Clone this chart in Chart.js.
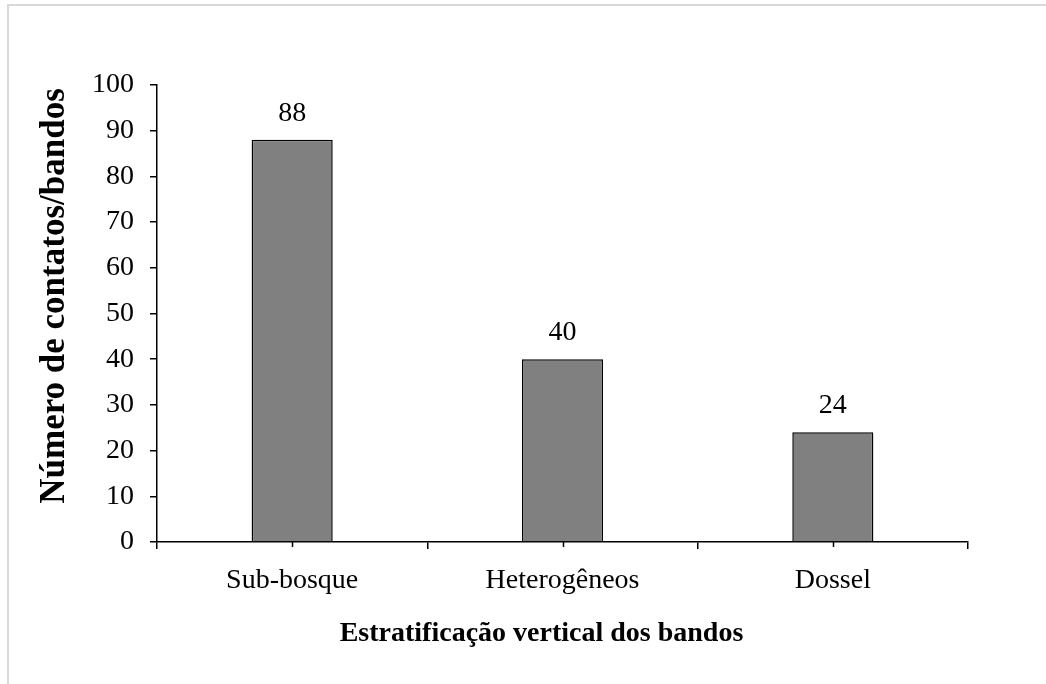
<!DOCTYPE html>
<html>
<head>
<meta charset="utf-8">
<script src="https://cdn.jsdelivr.net/npm/chart.js@4.4.0/dist/chart.umd.min.js"></script>
<style>
  html, body { margin: 0; padding: 0; background: #fff; overflow: hidden; }
  #frame { position: absolute; left: 7px; top: 4px; width: 2000px; height: 2000px; border: 2px solid #d9d9d9; }
  #c { position: absolute; left: 0; top: 0; }
</style>
</head>
<body>
<div id="frame"></div>
<canvas id="c" width="1046" height="684"></canvas>
<script>
// categories and values
var categories = ['Sub-bosque', 'Heterogêneos', 'Dossel'];
var contatos = [88, 40, 24];
var yTicks = [0, 10, 20, 30, 40, 50, 60, 70, 80, 90, 100];
var xTitle = 'Estratificação vertical dos bandos';
var yTitle = 'Número de contatos/bandos';

var serif = '"Liberation Serif", "Times New Roman", serif';

// value labels above bars + short center ticks on the category axis
var barExtras = {
    id: 'barExtras',
    afterDatasetsDraw: function (chart) {
        var ctx = chart.ctx;
        var meta = chart.getDatasetMeta(0);
        var xs = chart.scales.x;
        ctx.save();
        ctx.fillStyle = '#000';
        ctx.font = '28px ' + serif;
        ctx.textAlign = 'center';
        ctx.textBaseline = 'alphabetic';
        meta.data.forEach(function (bar, i) {
            ctx.fillText(String(contatos[i]), bar.x, bar.y - 19);
        });
        ctx.strokeStyle = '#000';
        ctx.lineWidth = 1.5;
        for (var i = 0; i < categories.length; i++) {
            var px = Math.round(xs.getPixelForValue(i)) + 0.5;
            ctx.beginPath();
            ctx.moveTo(px, xs.top);
            ctx.lineTo(px, xs.top + 5);
            ctx.stroke();
        }
        ctx.restore();
    }
};

var ctx = document.getElementById('c');
var myChart = new Chart(ctx, {
    type: 'bar',
    data: {
        labels: categories,
        datasets: [{
            data: contatos,
            backgroundColor: '#808080',
            borderColor: '#000',
            borderWidth: 1.5,
            barPercentage: 0.3,
            categoryPercentage: 1
        }]
    },
    options: {
        responsive: false,
        animation: false,
        layout: { padding: { left: 0, right: 78, top: 85, bottom: 0 } },
        plugins: { legend: { display: false }, tooltip: { enabled: false } },
        scales: {
            x: {
                grid: { offset: true, drawOnChartArea: false, tickLength: 7, color: '#000', lineWidth: 1.5 },
                border: { color: '#000', width: 1.5 },
                ticks: { color: '#000', padding: 15, font: { family: serif, size: 28 } },
                title: {
                    display: true,
                    text: xTitle + '\u00a0\u00a0\u00a0\u00a0\u00a0\u00a0',
                    color: '#000',
                    font: { family: serif, size: 28, weight: 'bold' },
                    padding: { top: 33, bottom: 33 }
                },
                afterFit: function (scale) { scale.height = 142; }
            },
            y: {
                min: 0,
                max: 100,
                afterBuildTicks: function (scale) {
                    scale.ticks = yTicks.map(function (v) { return { value: v }; });
                },
                grid: { drawOnChartArea: false, tickLength: 7, color: '#000', lineWidth: 1.5 },
                border: { color: '#000', width: 1.5 },
                ticks: { color: '#000', padding: 16, font: { family: serif, size: 28 } },
                title: {
                    display: true,
                    text: '\u00a0\u00a0\u00a0\u00a0' + yTitle,
                    color: '#000',
                    font: { family: serif, size: 35, weight: 'bold' },
                    padding: { top: 34, bottom: 34 }
                },
                afterFit: function (scale) { scale.width = 157; }
            }
        }
    },
    plugins: [barExtras]
});
</script>
</body>
</html>
